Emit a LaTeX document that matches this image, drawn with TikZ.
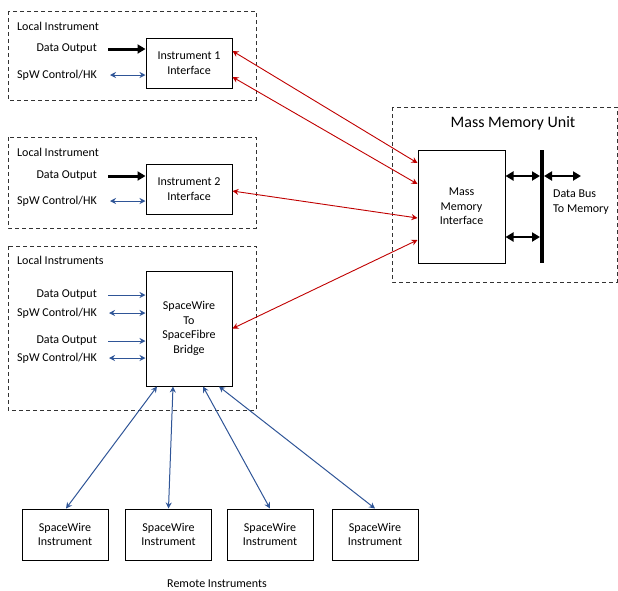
\documentclass[tikz,border=0pt]{standalone}
\usepackage{fontspec}
\setmainfont{Carlito}
\usepackage{tikz}
\usetikzlibrary{arrows.meta,positioning}
\definecolor{swblue}{RGB}{47,85,151}
\definecolor{mmred}{RGB}{192,0,0}

\begin{document}
\begin{tikzpicture}[x=1pt,y=-1pt,
  font=\fontsize{12}{14.5}\selectfont,
  box/.style={draw,line width=1pt,minimum width=86pt,align=center,inner sep=2pt},
  dashbox/.style={draw=black!80,line width=1pt,dash pattern=on 4pt off 3pt},
  lbl/.style={inner sep=0pt},
  dataarrow/.style={-{Triangle[length=8pt,width=9pt]},line width=3pt},
  busarrow/.style={{Triangle[length=8pt,width=9pt]}-{Triangle[length=8pt,width=9pt]},line width=2.4pt},
  bluein/.style={-{Stealth[length=6pt,width=6pt]},draw=swblue,line width=1pt},
  ctrlarrow/.style={{Stealth[length=6pt,width=6pt]}-{Stealth[length=6pt,width=6pt]},draw=swblue,line width=1pt},
  redlink/.style={{Stealth[length=6pt,width=6pt]}-{Stealth[length=6pt,width=6pt]},draw=mmred,line width=0.9pt}]
\useasboundingbox (0,0) rectangle (618,590);

% local instrument groups
\draw[dashbox] (8,11) rectangle (256,100);
\draw[dashbox] (8,137) rectangle (256,228);
\draw[dashbox] (8,246) rectangle (256,410);
\draw[dashbox] (392,107) rectangle (617,282);

\node[lbl,anchor=west] (grp1) at (17,26) {Local Instrument};
\node[lbl,anchor=west] (grp2) at (17,152) {Local Instrument};
\node[lbl,anchor=west] (grp3) at (17,260) {Local Instruments};
\node[lbl,font=\fontsize{16}{18}\selectfont] (mmutitle) at (513,123) {Mass Memory Unit};

% interfaces
\node[box,minimum height=50pt] (inst1) at (189,63) {Instrument 1\\Interface};
\node[box,minimum height=50pt] (inst2) at (189,189) {Instrument 2\\Interface};
\node[box,minimum height=115pt] (bridge) at (189,328.5) {SpaceWire\\To\\SpaceFibre\\Bridge};
\node[box,minimum width=87pt,minimum height=113pt] (mmi) at (461.5,206.5) {Mass\\Memory\\Interface};

% inputs
\node[lbl,anchor=east] (dout1) at (97,49) {Data Output};
\node[lbl,anchor=east] (ctrl1) at (97,75) {SpW Control/HK};
\node[lbl,anchor=east] (dout2) at (97,176) {Data Output};
\node[lbl,anchor=east] (ctrl2) at (97,201) {SpW Control/HK};
\node[lbl,anchor=east] (dout3) at (97,295) {Data Output};
\node[lbl,anchor=east] (ctrl3) at (97,313) {SpW Control/HK};
\node[lbl,anchor=east] (dout4) at (97,341) {Data Output};
\node[lbl,anchor=east] (ctrl4) at (97,358) {SpW Control/HK};

\draw[dataarrow] ([xshift=11pt]dout1.east) -- (inst1.west |- dout1.east);
\draw[ctrlarrow] ([xshift=13pt]ctrl1.east) -- (inst1.west |- ctrl1.east);
\draw[dataarrow] ([xshift=11pt]dout2.east) -- (inst2.west |- dout2.east);
\draw[ctrlarrow] ([xshift=13pt]ctrl2.east) -- (inst2.west |- ctrl2.east);
\draw[bluein] ([xshift=11pt]dout3.east) -- (bridge.west |- dout3.east);
\draw[ctrlarrow] ([xshift=12pt]ctrl3.east) -- (bridge.west |- ctrl3.east);
\draw[bluein] ([xshift=11pt]dout4.east) -- (bridge.west |- dout4.east);
\draw[ctrlarrow] ([xshift=12pt]ctrl4.east) -- (bridge.west |- ctrl4.east);

% links to mass memory
\draw[redlink] ([yshift=12pt]inst1.east) -- ([yshift=43.5pt]mmi.west);
\draw[redlink] ([yshift=-14pt]inst1.east) -- ([yshift=22.5pt]mmi.west);
\draw[redlink] ([yshift=-2pt]inst2.east) -- ([yshift=-11.5pt]mmi.west);
\draw[redlink] (bridge.east) -- ([yshift=-33.5pt]mmi.west);

% data bus
\coordinate (bustop) at (542,150);
\coordinate (busbot) at (542,263);
\coordinate (busA) at (540,176);
\coordinate (busB) at (540,237);
\coordinate (busR) at (544,176);
\coordinate (busout) at (581,176);
\draw[line width=3.2pt] (bustop) -- (busbot);
\draw[busarrow] (mmi.east |- busA) -- (busA);
\draw[busarrow] (mmi.east |- busB) -- (busB);
\draw[busarrow] (busR) -- (busout);
\node[lbl,anchor=west,align=left] (buslbl) at (553,202) {Data Bus\\To Memory};

% remote instruments
\node[box,minimum height=51pt] (rem1) at (65,534.5) {SpaceWire\\Instrument};
\node[box,minimum height=51pt] (rem2) at (168.5,534.5) {SpaceWire\\Instrument};
\node[box,minimum height=51pt] (rem3) at (270,534.5) {SpaceWire\\Instrument};
\node[box,minimum height=51pt] (rem4) at (375,534.5) {SpaceWire\\Instrument};
\node[lbl] (remlbl) at (217,584) {Remote Instruments};

\draw[ctrlarrow] ([xshift=-32pt]bridge.south) -- ([xshift=1pt]rem1.north);
\draw[ctrlarrow] ([xshift=-16pt]bridge.south) -- (rem2.north);
\draw[ctrlarrow] ([xshift=14pt]bridge.south) -- (rem3.north);
\draw[ctrlarrow] ([xshift=30pt]bridge.south) -- (rem4.north);
\end{tikzpicture}
\end{document}
